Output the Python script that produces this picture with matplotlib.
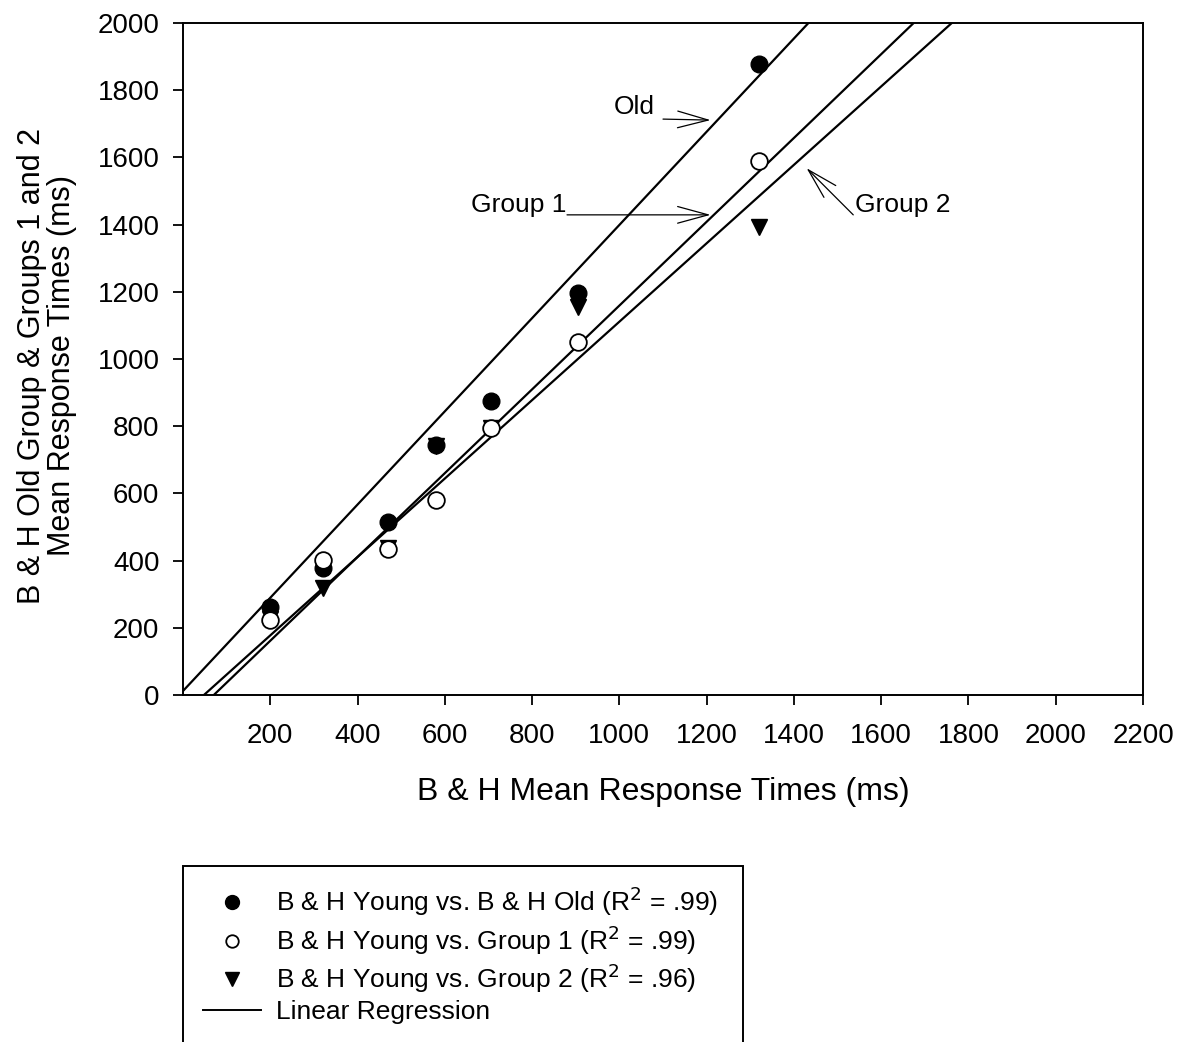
import matplotlib
matplotlib.use("Agg")
import matplotlib.pyplot as plt
import numpy as np
from matplotlib.lines import Line2D
from matplotlib.patches import Rectangle

plt.rcParams["font.family"] = ["Liberation Sans", "DejaVu Sans"]

# B & H young mean response times (x) for each condition
young_rt = [200, 320, 470, 580, 705, 905, 1320]
# matching response times of the three comparison groups
old_rt = [262, 378, 516, 744, 875, 1196, 1878]
group1_rt = [223, 402, 435, 580, 795, 1050, 1589]
group2_rt = [225, 318, 437, 740, 795, 1155, 1393]

# regression lines: (slope, intercept)
fit_old = (1.387, 12)
fit_g1 = (1.247, -88)
fit_g2 = (1.167, -56)

legend_labels = [
    "B & H Young vs. B & H Old (R$^{2}$ = .99)",
    "B & H Young vs. Group 1 (R$^{2}$ = .99)",
    "B & H Young vs. Group 2 (R$^{2}$ = .96)",
    "Linear Regression",
]

W, H = 1186, 1042
fig = plt.figure(figsize=(W / 100, H / 100), dpi=100)
ax = fig.add_axes([183 / W, 1 - 695 / H, (1143 - 183) / W, (695 - 23) / H])

xs = np.array([0, 2200])
for slope, icpt in (fit_old, fit_g1, fit_g2):
    ax.plot(xs, slope * xs + icpt, color="black", lw=1.6)

ms = 12
ax.plot(young_rt, old_rt, "o", color="black", ms=ms, zorder=3)
ax.plot(young_rt, group2_rt, "v", color="black", ms=ms, zorder=3)
ax.plot(young_rt, group1_rt, "o", mfc="white", mec="black", mew=1.3, ms=ms, zorder=4)

ax.set_xlim(0, 2200)
ax.set_ylim(0, 2000)
ax.set_xticks(range(200, 2201, 200))
ax.set_yticks(range(0, 2001, 200))
ax.tick_params(direction="out", length=7, width=1.3, labelsize=20)
ax.tick_params(axis="x", pad=13)
ax.tick_params(axis="y", pad=10)
for s in ax.spines.values():
    s.set_linewidth(1.4)

ax.set_xlabel("B & H Mean Response Times (ms)", fontsize=23, labelpad=20)
ax.set_ylabel("B & H Old Group & Groups 1 and 2\nMean Response Times (ms)",
              fontsize=22, linespacing=1.0)
ax.yaxis.set_label_coords(-0.11, 0.49)

arrow = dict(arrowstyle="->,head_length=2.2,head_width=0.6", color="black", lw=0.9,
             shrinkA=0, shrinkB=0)
ax.annotate("", xy=(1209, 1711), xytext=(1100, 1714), arrowprops=arrow)
ax.text(1080, 1750, "Old", fontsize=19, ha="right", va="center")
ax.annotate("", xy=(1209, 1429), xytext=(880, 1429), arrowprops=arrow)
ax.text(878, 1458, "Group 1", fontsize=19, ha="right", va="center")
ax.annotate("", xy=(1429, 1568), xytext=(1536, 1429), arrowprops=arrow)
ax.text(1540, 1458, "Group 2", fontsize=19, ha="left", va="center")

# legend box, cut off by the bottom of the figure
fig.patches.append(Rectangle((183 / W, 0 - 0.02), (743 - 183) / W, 1 - 866 / H + 0.02,
                             transform=fig.transFigure, fill=False, lw=1.4,
                             edgecolor="black"))
handles = [
    Line2D([], [], ls="none", marker="o", color="black", ms=10),
    Line2D([], [], ls="none", marker="o", mfc="white", mec="black", mew=1.3, ms=9),
    Line2D([], [], ls="none", marker="v", color="black", ms=10),
    Line2D([], [], color="black", lw=1.4),
]
fig.legend(handles, legend_labels, loc="upper left",
           bbox_to_anchor=(203 / W, 1 - 885 / H), frameon=False, fontsize=19,
           borderpad=0, borderaxespad=0,
           handlelength=2.2, handletextpad=0.55, labelspacing=0.18)

fig.savefig("out.png", dpi=100)
